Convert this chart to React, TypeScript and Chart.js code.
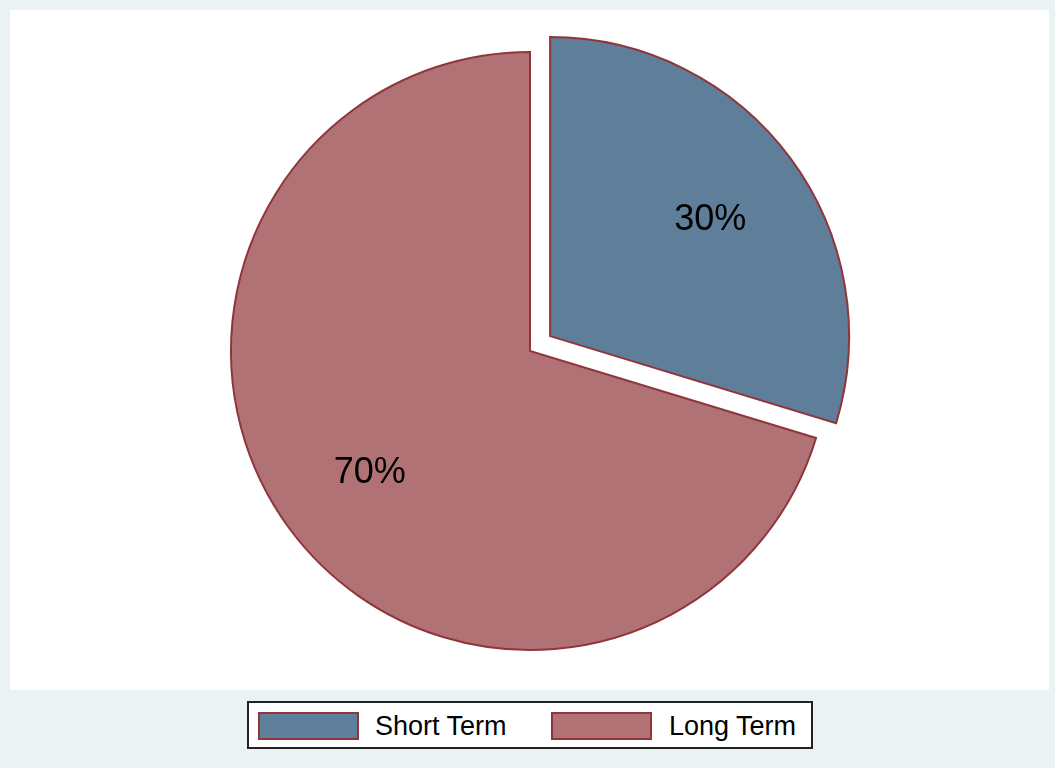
import React, { useEffect, useRef } from "react";
import { Chart, registerables } from "chart.js";

Chart.register(...registerables);

const categories = ["Short Term", "Long Term"];
const values = [29.7, 70.3];
const fillColors = ["rgb(95,126,154)", "rgb(177,114,118)"];
const outlineColor = "rgb(144,53,59)";
const explodePx = [25, 0];

const FONT = "'Liberation Sans', Arial, Helvetica, sans-serif";
const LABEL_SIZE = 36;

const explodePlugin = {
  id: "explodeSlices",
  afterDatasetUpdate(chart: any, args: any) {
    const meta = chart.getDatasetMeta(args.index);
    meta.data.forEach((arc: any, i: number) => {
      const e = explodePx[i] || 0;
      if (!e) return;
      const mid = (arc.startAngle + arc.endAngle) / 2;
      arc.x += Math.cos(mid) * e;
      arc.y += Math.sin(mid) * e;
    });
  },
};

const sliceLabelPlugin = {
  id: "sliceLabels",
  afterDatasetsDraw(chart: any) {
    const ctx = chart.ctx;
    const meta = chart.getDatasetMeta(0);
    const total = values.reduce((a, b) => a + b, 0);
    ctx.save();
    ctx.font = `${LABEL_SIZE}px ${FONT}`;
    ctx.fillStyle = "#000";
    ctx.textAlign = "center";
    ctx.textBaseline = "alphabetic";
    meta.data.forEach((arc: any, i: number) => {
      const mid = (arc.startAngle + arc.endAngle) / 2;
      const d = arc.outerRadius * (2 / 3);
      const txt = Math.round((values[i] / total) * 100) + "%";
      ctx.fillText(
        txt,
        arc.x + Math.cos(mid) * d,
        arc.y + Math.sin(mid) * d + LABEL_SIZE * 0.36
      );
    });
    ctx.restore();
  },
};

export default function App() {
  const ref = useRef<HTMLCanvasElement | null>(null);

  useEffect(() => {
    if (!ref.current) return;
    const chart = new Chart(ref.current, {
      type: "pie",
      data: {
        labels: categories,
        datasets: [
          {
            data: values,
            backgroundColor: fillColors,
            borderColor: outlineColor,
            borderWidth: 2,
            borderJoinStyle: "miter",
          } as any,
        ],
      },
      options: {
        animation: false,
        responsive: false,
        maintainAspectRatio: false,
        radius: 299,
        layout: { padding: { left: 5, right: 0, top: 0, bottom: 66 } },
        plugins: {
          legend: { display: false },
          tooltip: { enabled: false },
        },
      } as any,
      plugins: [explodePlugin, sliceLabelPlugin],
    });
    return () => chart.destroy();
  }, []);

  const swatch = (color: string, left: number) => (
    <div
      style={{
        position: "absolute",
        left,
        top: 712,
        width: 97,
        height: 24,
        background: color,
        border: `2px solid ${outlineColor}`,
      }}
    />
  );
  const text = (s: string, left: number) => (
    <div
      style={{
        position: "absolute",
        left,
        top: 710,
        height: 32,
        lineHeight: "32px",
        fontFamily: FONT,
        fontSize: 27,
        color: "#000",
        whiteSpace: "nowrap",
      }}
    >
      {s}
    </div>
  );

  return (
    <div
      style={{
        position: "fixed",
        left: 0,
        top: 0,
        width: 1055,
        height: 768,
        background: "rgb(234,242,243)",
        overflow: "hidden",
      }}
    >
      <div
        style={{
          position: "absolute",
          left: 10,
          top: 10,
          width: 1039,
          height: 680,
          background: "#fff",
        }}
      />
      <canvas
        ref={ref}
        width={1055}
        height={768}
        style={{ position: "absolute", left: 0, top: 0, width: 1055, height: 768 }}
      />
      <div
        style={{
          position: "absolute",
          left: 247,
          top: 701,
          width: 562,
          height: 44,
          background: "#fff",
          border: "2px solid #222",
        }}
      />
      {swatch(fillColors[0], 258)}
      {text(categories[0], 375)}
      {swatch(fillColors[1], 551)}
      {text(categories[1], 669)}
    </div>
  );
}
